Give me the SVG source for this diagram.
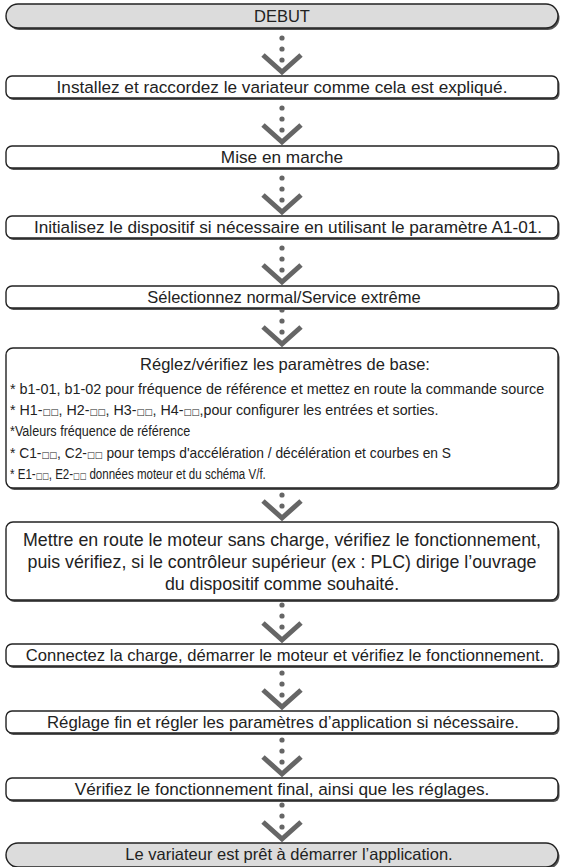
<svg xmlns="http://www.w3.org/2000/svg" width="562" height="867" viewBox="0 0 562 867">
<defs>
<style>
.sh{fill:#555;stroke:none}
.box{fill:#fff;stroke:#222;stroke-width:1.4}
.term{fill:#dcdcdc;stroke:#222;stroke-width:1.4}
text{font-family:"Liberation Sans",Arial,sans-serif;fill:#222}
.t{font-size:17.2px;text-anchor:middle}
.tl{font-size:15px}
.sq{font-family:"DejaVu Sans",sans-serif;font-size:9px}
.dot{fill:#666}
.chev{fill:none;stroke:#666;stroke-width:5;stroke-linejoin:miter}
</style>
</defs>
<rect width="562" height="867" fill="#fff"/>
<g id="connectors">
<g><circle class="dot" cx="282" cy="38" r="2.6"/><circle class="dot" cx="282" cy="49" r="2.6"/><circle class="dot" cx="282" cy="60" r="2.6"/><polyline class="chev" points="263,55 282,72 301,55"/></g>
<g><circle class="dot" cx="282" cy="108" r="2.6"/><circle class="dot" cx="282" cy="119" r="2.6"/><circle class="dot" cx="282" cy="130" r="2.6"/><polyline class="chev" points="263,125 282,142 301,125"/></g>
<g><circle class="dot" cx="282" cy="178" r="2.6"/><circle class="dot" cx="282" cy="189" r="2.6"/><circle class="dot" cx="282" cy="200" r="2.6"/><polyline class="chev" points="263,195 282,212 301,195"/></g>
<g><circle class="dot" cx="282" cy="248" r="2.6"/><circle class="dot" cx="282" cy="259" r="2.6"/><circle class="dot" cx="282" cy="270" r="2.6"/><polyline class="chev" points="263,265 282,282 301,265"/></g>
<g><circle class="dot" cx="282" cy="310" r="2.6"/><circle class="dot" cx="282" cy="321" r="2.6"/><circle class="dot" cx="282" cy="332" r="2.6"/><polyline class="chev" points="263,327 282,344 301,327"/></g>
<g><circle class="dot" cx="282" cy="484" r="2.6"/><circle class="dot" cx="282" cy="495" r="2.6"/><circle class="dot" cx="282" cy="506" r="2.6"/><polyline class="chev" points="263,501 282,518 301,501"/></g>
<g><circle class="dot" cx="282" cy="605" r="2.6"/><circle class="dot" cx="282" cy="616" r="2.6"/><circle class="dot" cx="282" cy="627" r="2.6"/><polyline class="chev" points="263,623 282,640 301,623"/></g>
<g><circle class="dot" cx="282" cy="673" r="2.6"/><circle class="dot" cx="282" cy="684" r="2.6"/><circle class="dot" cx="282" cy="695" r="2.6"/><polyline class="chev" points="263,690 282,707 301,690"/></g>
<g><circle class="dot" cx="282" cy="740" r="2.6"/><circle class="dot" cx="282" cy="751" r="2.6"/><circle class="dot" cx="282" cy="762" r="2.6"/><polyline class="chev" points="263,757 282,774 301,757"/></g>
<g><circle class="dot" cx="282" cy="805" r="2.6"/><circle class="dot" cx="282" cy="816" r="2.6"/><circle class="dot" cx="282" cy="827" r="2.6"/><polyline class="chev" points="263,822 282,839 301,822"/></g>
</g>
<g id="debut"><rect class="sh" x="7.5" y="6" width="552" height="24" rx="12"/><rect class="term" x="6" y="4" width="552" height="24" rx="12"/><text class="t" x="282" y="21.5" style="font-size:16.5px">DEBUT</text></g>
<g id="installez"><rect class="sh" x="7.5" y="78" width="552" height="22" rx="6"/><rect class="box" x="6" y="76" width="552" height="22" rx="6"/><text class="t" x="282" y="93">Installez et raccordez le variateur comme cela est expliqué.</text></g>
<g id="mise"><rect class="sh" x="7.5" y="148" width="552" height="22" rx="6"/><rect class="box" x="6" y="146" width="552" height="22" rx="6"/><text class="t" x="282" y="163">Mise en marche</text></g>
<g id="initialisez"><rect class="sh" x="7.5" y="218" width="552" height="22" rx="6"/><rect class="box" x="6" y="216" width="552" height="22" rx="6"/><text class="t" x="288" y="233">Initialisez le dispositif si nécessaire en utilisant le paramètre A1-01.</text></g>
<g id="selectionnez"><rect class="sh" x="7.5" y="288" width="552" height="22" rx="6"/><rect class="box" x="6" y="286" width="552" height="22" rx="6"/><text class="t" x="284" y="303" style="font-size:16.5px">Sélectionnez normal/Service extrême</text></g>
<g id="reglez"><rect class="sh" x="7.5" y="350" width="552" height="140" rx="7"/><rect class="box" x="6" y="348" width="552" height="140" rx="7"/>
<text class="t" x="285" y="370" style="font-size:16.5px">Réglez/vérifiez les paramètres de base:</text>
<text class="tl" x="0" y="0" transform="translate(10,393.5) scale(0.96,1)">* b1-01, b1-02 pour fréquence de référence et mettez en route la commande source</text>
<text class="tl" x="0" y="0" transform="translate(10,414.5) scale(0.95,1)">* H1-<tspan class="sq">□□</tspan>, H2-<tspan class="sq">□□</tspan>, H3-<tspan class="sq">□□</tspan>, H4-<tspan class="sq">□□</tspan>,pour configurer les entrées et sorties.</text>
<text class="tl" x="0" y="0" transform="translate(10,435.5) scale(0.84,1)">*Valeurs fréquence de référence</text>
<text class="tl" x="0" y="0" transform="translate(10,457.5) scale(0.92,1)">* C1-<tspan class="sq">□□</tspan>, C2-<tspan class="sq">□□</tspan> pour temps d'accélération / décélération et courbes en S</text>
<text class="tl" x="0" y="0" transform="translate(10,478.5) scale(0.77,1)">* E1-<tspan class="sq">□□</tspan>, E2-<tspan class="sq">□□</tspan> données moteur et du schéma V/f.</text>
</g>
<g id="mettre"><rect class="sh" x="7.5" y="524" width="552" height="78" rx="7"/><rect class="box" x="6" y="522" width="552" height="78" rx="7"/>
<text class="t" x="282" y="546" style="font-size:17.8px">Mettre en route le moteur sans charge, vérifiez le fonctionnement,</text>
<text class="t" x="282" y="568" style="font-size:17.8px">puis vérifiez, si le contrôleur supérieur (ex : PLC) dirige l’ouvrage</text>
<text class="t" x="282" y="590" style="font-size:17.8px">du dispositif comme souhaité.</text>
</g>
<g id="connectez"><rect class="sh" x="7.5" y="646" width="552" height="22" rx="6"/><rect class="box" x="6" y="644" width="552" height="22" rx="6"/><text class="t" x="285" y="660.5" style="font-size:16.6px">Connectez la charge, démarrer le moteur et vérifiez le fonctionnement.</text></g>
<g id="reglage"><rect class="sh" x="7.5" y="713" width="552" height="22" rx="6"/><rect class="box" x="6" y="711" width="552" height="22" rx="6"/><text class="t" x="283" y="727.5" style="font-size:16.8px">Réglage fin et régler les paramètres d’application si nécessaire.</text></g>
<g id="verifiez"><rect class="sh" x="7.5" y="780" width="552" height="22" rx="6"/><rect class="box" x="6" y="778" width="552" height="22" rx="6"/><text class="t" x="282" y="794.5">Vérifiez le fonctionnement final, ainsi que les réglages.</text></g>
<g id="fin"><rect class="sh" x="7.5" y="845" width="552" height="24" rx="12"/><rect class="term" x="6" y="843" width="552" height="24" rx="12"/><text class="t" x="289" y="860" style="font-size:16.5px">Le variateur est prêt à démarrer l’application.</text></g>
</svg>
